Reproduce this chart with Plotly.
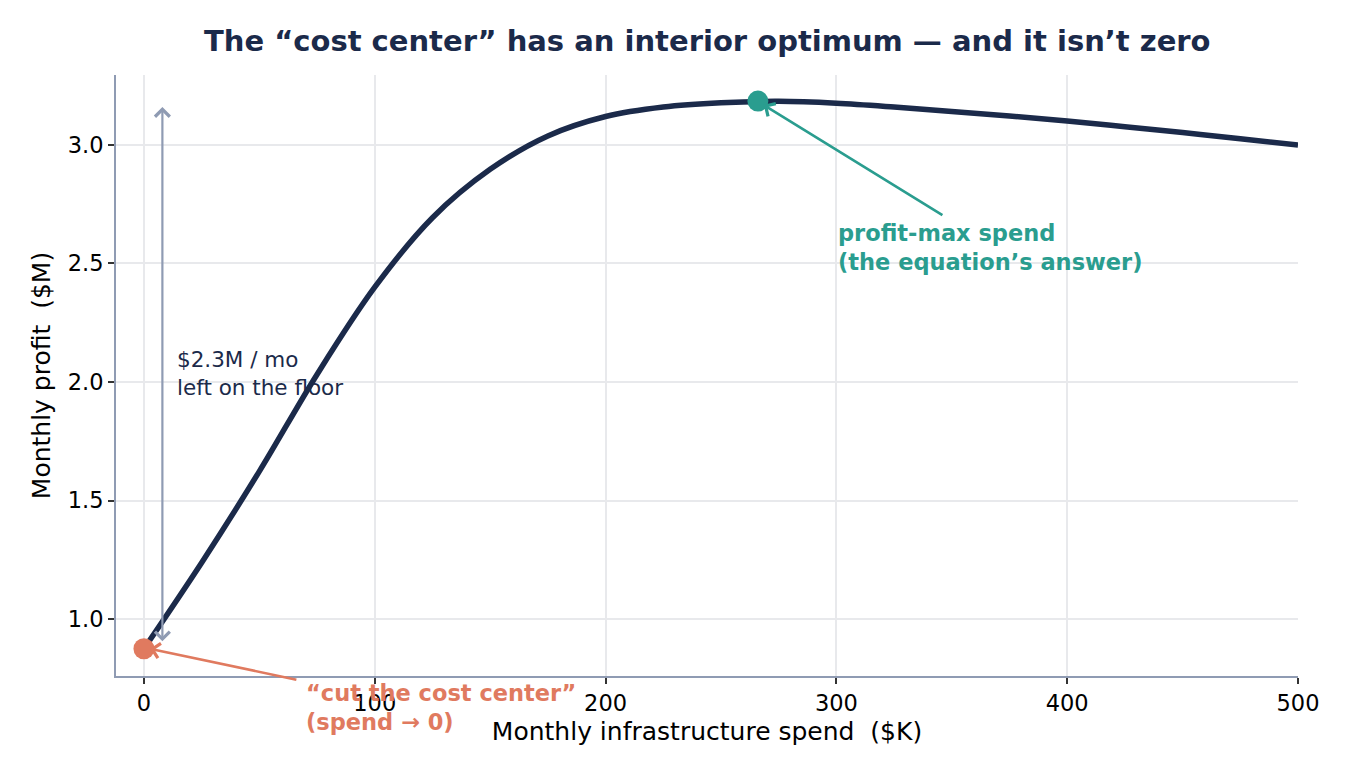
import plotly.graph_objects as go

# monthly infra spend ($K) vs monthly profit ($M)
spend = [0, 25, 50, 75, 100, 125, 150, 175, 200, 225, 250, 275, 300,
         325, 350, 375, 400, 425, 450, 475, 500]
profit = [0.875, 1.238, 1.623, 2.032, 2.40, 2.693, 2.897, 3.038, 3.12, 3.16,
          3.178, 3.184, 3.176, 3.16, 3.141, 3.122, 3.101, 3.077, 3.052, 3.026, 3.0]

opt_spend, opt_profit = 266, 3.185
zero_spend, zero_profit = 0, 0.875
gap_x, gap_lo, gap_hi = 8, 0.9, 3.16

NAVY = '#1b2a4a'
TEAL = '#2a9d8f'
ORANGE = '#e07a5f'
SLATE = '#8f9bb3'
FONT = 'DejaVu Sans'

fig = go.Figure()
fig.add_trace(go.Scatter(
    x=spend, y=profit, mode='lines',
    line=dict(color=NAVY, width=5.5, shape='spline', smoothing=1.0),
    showlegend=False, hoverinfo='skip'))
fig.add_trace(go.Scatter(
    x=[zero_spend], y=[zero_profit], mode='markers',
    marker=dict(color=ORANGE, size=21), showlegend=False, cliponaxis=False))
fig.add_trace(go.Scatter(
    x=[opt_spend], y=[opt_profit], mode='markers',
    marker=dict(color=TEAL, size=21), showlegend=False, cliponaxis=False))

# double-headed gap arrow
fig.add_annotation(x=gap_x, y=gap_hi, ax=gap_x, ay=gap_lo, xref='x', yref='y',
                   axref='x', ayref='y', text='', showarrow=True,
                   arrowside='end+start', arrowhead=4, arrowsize=1.3,
                   arrowwidth=2.2, arrowcolor=SLATE)
fig.add_annotation(x=13.5, y=2.035, xref='x', yref='y', xanchor='left',
                   text='$2.3M / mo<br>left on the floor', showarrow=False,
                   align='left', font=dict(family=FONT, size=21.5, color=NAVY))

# optimum callout
fig.add_annotation(x=opt_spend + 2.5, y=opt_profit - 0.016, ax=346.6, ay=2.70,
                   xref='x', yref='y', axref='x', ayref='y', text='',
                   showarrow=True, arrowhead=4, arrowsize=1.1, arrowwidth=2.6,
                   arrowcolor=TEAL)
fig.add_annotation(x=300, y=2.568, xref='x', yref='y', xanchor='left',
                   text='<b>profit-max spend<br>(the equation’s answer)</b>',
                   showarrow=False, align='left',
                   font=dict(family=FONT, size=22.5, color=TEAL))

# zero-spend callout
fig.add_annotation(x=zero_spend + 2.6, y=zero_profit, ax=66.7, ay=0.743,
                   xref='x', yref='y', axref='x', ayref='y', text='',
                   showarrow=True, arrowhead=4, arrowsize=1.1, arrowwidth=2.6,
                   arrowcolor=ORANGE)
fig.add_annotation(x=69.5, y=-0.004, xref='x', yref='paper', xanchor='left',
                   yanchor='top',
                   text='<b>“cut the cost center”<br>(spend → 0)</b>',
                   showarrow=False, align='left',
                   font=dict(family=FONT, size=22.5, color=ORANGE))

fig.update_layout(
    width=1350, height=780,
    margin=dict(l=108, r=60, t=67, b=112),
    plot_bgcolor='white', paper_bgcolor='white',
    font=dict(family=FONT, size=22.5, color='black'),
    title=dict(text='<b>The “cost center” has an interior optimum — and it isn’t zero</b>',
               x=0.518, xanchor='center', y=0.958, yanchor='middle',
               font=dict(family=FONT, size=29, color=NAVY)),
)
fig.update_xaxes(
    range=[-12.1, 500], tickvals=[0, 100, 200, 300, 400, 500],
    showgrid=True, gridcolor='#e8e9ec', gridwidth=1.5, zeroline=False,
    showline=True, linecolor=SLATE, linewidth=1.8, mirror=False,
    ticks='outside', ticklen=6, tickcolor='#333', tickwidth=1.5,
    title=dict(text='Monthly infrastructure spend  ($K)', standoff=8,
               font=dict(family=FONT, size=25)))
fig.update_yaxes(
    range=[0.76, 3.295], tickvals=[1.0, 1.5, 2.0, 2.5, 3.0],
    tickformat='.1f',
    showgrid=True, gridcolor='#e8e9ec', gridwidth=1.5, zeroline=False,
    showline=True, linecolor=SLATE, linewidth=1.8, mirror=False,
    ticks='outside', ticklen=6, tickcolor='#333', tickwidth=1.5,
    title=dict(text='Monthly profit  ($M)', standoff=10,
               font=dict(family=FONT, size=25)))

fig.write_html("out.html")
